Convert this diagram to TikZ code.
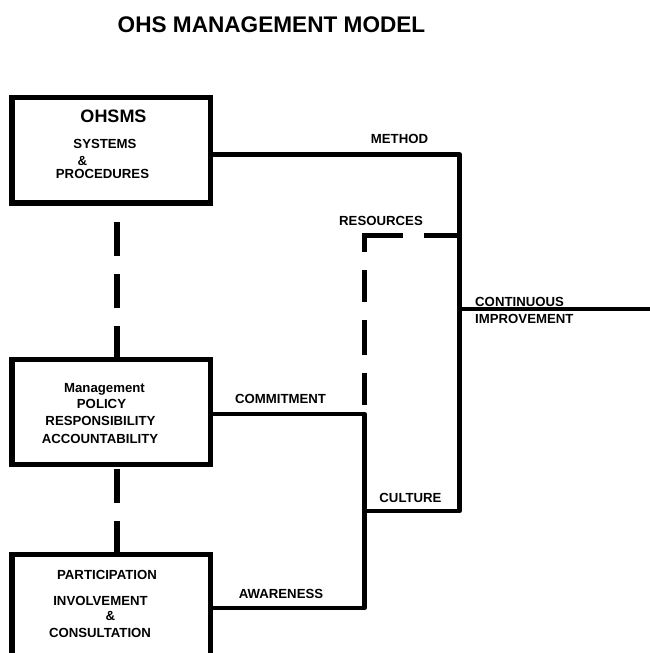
\documentclass[tikz,border=0pt]{standalone}
\usepackage{fontspec}
\setmainfont{Liberation Sans}
\begin{document}
\begin{tikzpicture}[x=1pt,y=-1pt,
  box/.style={draw, line width=5.5pt, rectangle, inner sep=0pt, fill=white},
  txt/.style={inner sep=0pt, anchor=base, font=\bfseries\fontsize{13.2}{15}\selectfont},
  lbl/.style={inner sep=0pt, anchor=base, font=\bfseries\fontsize{13.2}{15}\selectfont},
  conn/.style={line width=4.6pt, line join=round},
  vdash/.style={line width=6pt, dash pattern=on 34pt off 18pt},
  rdash/.style={line width=4.8pt, line join=miter,
    dash pattern=on 36pt off 21pt on 54.5pt off 18pt on 32pt off 18pt on 35pt off 18pt on 32pt off 200pt}
]
\useasboundingbox (0,0) rectangle (650,653);
\clip (0,0) rectangle (650,653);

% title
\node[inner sep=0pt, anchor=base, font=\bfseries\fontsize{22.6}{25}\selectfont] (title) at (271.5,32) {OHS MANAGEMENT MODEL};

% coordinates of the connector network
\coordinate (mc) at (459.5,154.5);   % METHOD corner
\coordinate (rc) at (459.5,235.5);   % RESOURCES join
\coordinate (ci) at (459.5,309);     % CONTINUOUS IMPROVEMENT join
\coordinate (ce) at (650,309);       % right end
\coordinate (cu) at (459.5,511);     % CULTURE corner right
\coordinate (cl) at (364.5,511);     % CULTURE corner left
\coordinate (cm) at (364.5,414);     % COMMITMENT corner
\coordinate (aw) at (364.5,608);     % AWARENESS corner
\coordinate (rs) at (364.5,235.5);   % RESOURCES corner
\coordinate (re) at (364.5,405);     % RESOURCES dashed end

% dashed links between boxes (drawn first, boxes cover ends)
\coordinate (d1a) at (117,360);
\coordinate (d1b) at (117,203);
\coordinate (d2a) at (117,555);
\coordinate (d2b) at (117,464);
\draw[vdash] (d1a) -- (d1b);
\draw[vdash] (d2a) -- (d2b);

% boxes
\node[box, minimum width=198.5pt, minimum height=105.5pt] (ohsms) at (111.25,150.25) {};
\node[box, minimum width=198.5pt, minimum height=105pt] (mgmt) at (111.25,412) {};
\node[box, minimum width=198.5pt, minimum height=140pt] (part) at (111.25,624.5) {};

% box texts
\node[inner sep=0pt, anchor=base, font=\bfseries\fontsize{18}{20}\selectfont] (t1) at (113.5,122) {OHSMS};
\node[txt] (t2) at (105,148) {SYSTEMS};
\node[txt] (t3) at (82.5,165) {\&};
\node[txt] (t4) at (102.5,178) {PROCEDURES};

\node[txt] (t5) at (104.5,392) {Management};
\node[txt] (t6) at (101.5,408) {POLICY};
\node[txt] (t7) at (100.5,425) {RESPONSIBILITY};
\node[txt] (t8) at (100,443) {ACCOUNTABILITY};

\node[txt] (t9) at (107,579) {PARTICIPATION};
\node[txt] (t10) at (100.5,605) {INVOLVEMENT};
\node[txt] (t11) at (110.5,620) {\&};
\node[txt] (t12) at (100,637) {CONSULTATION};

% connectors
\draw[conn] (ohsms.east |- mc) -- (mc) -- (cu) -- (cl);
\draw[conn] (ci) -- (ce);
\draw[conn] (mgmt.east |- cm) -- (cm) -- (aw) -- (part.east |- aw);
\draw[rdash] (rc) -- (rs) -- (re);

% labels
\node[lbl] (lm) at (399.5,143) {METHOD};
\node[lbl] (lr) at (381,225) {RESOURCES};
\node[lbl, anchor=base west] (lc1) at (475,306) {CONTINUOUS};
\node[lbl, anchor=base west] (lc2) at (475,323) {IMPROVEMENT};
\node[lbl] (lco) at (280.5,403) {COMMITMENT};
\node[lbl] (lcu) at (410.5,502) {CULTURE};
\node[lbl] (law) at (281,598) {AWARENESS};
\end{tikzpicture}
\end{document}
